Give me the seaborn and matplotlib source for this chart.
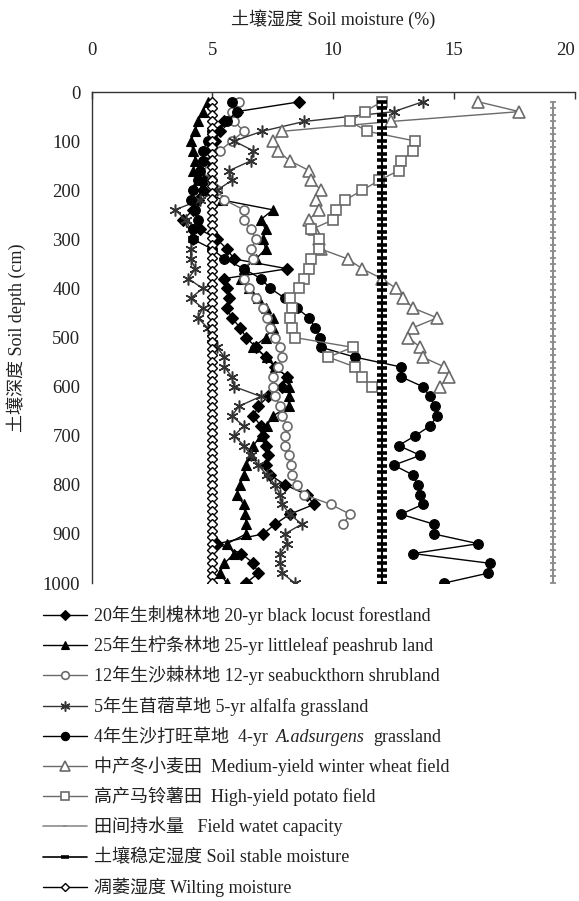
import numpy as np
import pandas as pd
import seaborn as sns
import matplotlib.pyplot as plt
from matplotlib.lines import Line2D

# sampling depths (cm), one value every 20 cm
depth = list(range(20, 1001, 20))
# depths used for the three constant reference lines (denser markers)
ref_depth = np.linspace(20, 1000, 75)

# soil moisture (%)
black_locust = [8.6, 6.0, 5.5, 5.3, 5.1, 5.0, 4.9, 4.8, 4.7, 4.6,
                4.4, 4.2, 3.8, 4.5, 5.2, 5.6, 5.9, 8.1, 5.5, 5.6,
                5.7, 5.6, 5.8, 6.15, 6.4, 6.8, 7.2, 7.6, 8.1, 7.9,
                7.3, 6.9, 6.7, 7.0, 7.1, 7.2, 7.3, 7.2, 7.4, 8.0,
                8.9, 9.2, 8.2, 7.6, 7.1, 5.2, 6.2, 6.7, 6.9, 6.4]
peashrub = [4.8, 4.6, 4.4, 4.3, 4.1, 4.2, 4.3, 4.2, 4.4, 4.6,
            5.4, 7.5, 7.0, 7.2, 7.1, 7.2, 6.8, 6.3, 6.2, 6.5,
            6.9, 7.2, 7.5, 7.5, 7.2, 6.7, 7.25, 7.6, 8.1, 8.15,
            8.15, 8.15, 7.5, 7.25, 7.0, 6.7, 6.6, 6.4, 6.3, 6.15,
            6.0, 6.3, 6.35, 6.4, 6.4, 5.6, 5.9, 5.5, 5.3, 5.6]
seabuckthorn = [6.1, 5.8, 5.9, 6.3, 5.8, 5.3, 4.6, 4.8, 5.0, 5.2,
                5.5, 6.3, 6.3, 6.6, 6.8, 6.6, 6.7, 6.3, 6.3, 6.5,
                6.8, 7.1, 7.25, 7.4, 7.6, 7.8, 7.9, 7.7, 7.5, 7.5,
                7.6, 7.8, 7.9, 8.1, 8.0, 8.0, 8.15, 8.25, 8.3, 8.5,
                8.8, 9.9, 10.7, 10.4]
alfalfa = [13.7, 12.5, 8.8, 7.05, 5.9, 6.7, 6.6, 5.7, 5.8, 5.2,
           4.5, 3.45, 3.9, 4.1, 4.2, 4.1, 4.1, 4.3, 4.0, 4.6,
           4.1, 4.6, 4.4, 4.8, 5.0, 5.2, 5.5, 5.5, 5.8, 5.9,
           7.0, 6.1, 5.8, 6.3, 5.9, 6.3, 6.6, 6.9, 7.25, 7.6,
           7.8, 7.9, 8.2, 8.7, 8.0, 8.1, 7.8, 7.8, 7.9, 8.4]
adsurgens = [5.8, 6.0, 5.6, 5.0, 4.8, 4.6, 4.6, 4.5, 4.4, 4.2,
             4.1, 4.3, 4.4, 4.2, 4.2, 5.0, 5.5, 6.3, 7.0, 7.4,
             8.0, 8.5, 9.0, 9.25, 9.46, 9.5, 10.9, 12.8, 12.8, 13.7,
             14.0, 14.2, 14.3, 14.0, 13.4, 12.7, 13.6, 12.5, 13.3, 13.5,
             13.6, 13.7, 12.8, 14.15, 14.15, 16.0, 13.3, 16.5, 16.4, 14.6]
wheat = [16.0, 17.7, 12.4, 7.9, 7.5, 7.7, 8.2, 9.0, 9.1, 9.5,
         9.3, 9.4, 9.0, 9.2, 9.4, 9.5, 10.6, 11.2, 12.0, 12.6,
         12.9, 13.3, 14.3, 13.3, 13.1, 13.6, 13.7, 14.6, 14.8, 14.4]
potato = [12.0, 11.3, 10.7, 11.4, 13.4, 13.3, 12.8, 12.7, 11.9, 11.2,
          10.5, 10.1, 10.0, 9.1, 9.4, 9.4, 9.1, 9.0, 8.8, 8.6,
          8.2, 8.3, 8.2, 8.3, 8.4, 10.8, 9.8, 10.9, 11.2, 11.6]
field_capacity = 19.1
stable_moisture = 12.0
wilting_moisture = 5.0

labels = [
    "20年生刺槐林地 20-yr black locust forestland",
    "25年生柠条林地 25-yr littleleaf peashrub land",
    "12年生沙棘林地 12-yr seabuckthorn shrubland",
    "5年生苜蓿草地 5-yr alfalfa grassland",
    "4年生沙打旺草地  4-yr",
    "中产冬小麦田  Medium-yield winter wheat field",
    "高产马铃薯田  High-yield potato field",
    "田间持水量   Field watet capacity",
    "土壤稳定湿度 Soil stable moisture",
    "凋萎湿度 Wilting moisture",
]

sns.set_style("white")
plt.rcParams['font.family'] = ['Liberation Serif', 'Noto Sans CJK SC']

GRAY = '#6a6a6a'
styles = [
    dict(color='black', marker='D', markersize=6, markerfacecolor='black',
         markeredgecolor='black', markeredgewidth=0.8, linewidth=1.0),
    dict(color='black', marker='^', markersize=7, markerfacecolor='black',
         markeredgecolor='black', markeredgewidth=0.8, linewidth=1.0),
    dict(color=GRAY, marker='o', markersize=6.5, markerfacecolor='white',
         markeredgecolor=GRAY, markeredgewidth=1.2, linewidth=1.0),
    dict(color='#333333', marker=(6, 2, 0), markersize=8.5, markerfacecolor='#333333',
         markeredgecolor='#333333', markeredgewidth=1.1, linewidth=1.0),
    dict(color='black', marker='o', markersize=7, markerfacecolor='black',
         markeredgecolor='black', markeredgewidth=0.8, linewidth=1.0),
    dict(color=GRAY, marker='^', markersize=8, markerfacecolor='white',
         markeredgecolor=GRAY, markeredgewidth=1.2, linewidth=1.0),
    dict(color=GRAY, marker='s', markersize=6.5, markerfacecolor='white',
         markeredgecolor=GRAY, markeredgewidth=1.2, linewidth=1.0),
    dict(color='#8c8c8c', marker='_', markersize=4, markerfacecolor='#8c8c8c',
         markeredgecolor='#8c8c8c', markeredgewidth=1.3, linewidth=1.5),
    dict(color='black', marker='_', markersize=7.5, markerfacecolor='black',
         markeredgecolor='black', markeredgewidth=2.6, linewidth=1.5),
    dict(color='black', marker='D', markersize=4.6, markerfacecolor='white',
         markeredgecolor='black', markeredgewidth=1.0, linewidth=1.0),
]

series = [black_locust, peashrub, seabuckthorn, alfalfa, adsurgens, wheat, potato]
refs = [field_capacity, stable_moisture, wilting_moisture]

W, H = 579, 901
fig = plt.figure(figsize=(W / 100, H / 100), dpi=100)
ax = fig.add_axes([91.5 / W, 1 - 583 / H, 483.5 / W, 491 / H])

for vals, st in zip(series, styles[:7]):
    sns.lineplot(x=vals, y=depth[:len(vals)], ax=ax, orient='y',
                 estimator=None, legend=False, **st)
for val, st in zip(refs, styles[7:]):
    sns.lineplot(x=[val] * len(ref_depth), y=ref_depth, ax=ax, orient='y',
                 estimator=None, legend=False, **st)

ax.set_xlim(0, 20)
ax.set_ylim(1000, 0)
ax.set_xticks([0, 5, 10, 15, 20])
ax.set_yticks(range(0, 1001, 100))
ax.xaxis.tick_top()
ax.xaxis.set_label_position('top')
for side in ['right', 'bottom']:
    ax.spines[side].set_visible(False)
for side in ['top', 'left']:
    ax.spines[side].set_color('#333333')
    ax.spines[side].set_linewidth(1.0)
ax.tick_params(axis='both', direction='in', length=5, width=1, color='#333333',
               labelsize=13.5, labelcolor='#222222')
ax.tick_params(axis='x', pad=24)
ax.tick_params(axis='y', pad=8)
# keep the last x label inside the figure
ax.get_xticklabels()[-1].set_horizontalalignment('right')
ax.set_xlabel("土壤湿度 Soil moisture (%)", fontsize=13, labelpad=12, color='#222222')
ax.set_ylabel("土壤深度 Soil depth (cm)", fontsize=13, labelpad=12, color='#222222')

# hand-made legend below the axes
row_y = [615 + 30.2 * i for i in range(10)]
texts = []
for i, (lab, st) in enumerate(zip(labels, styles)):
    yf = 1 - row_y[i] / H
    hst = dict(st)
    hst['markersize'] = st['markersize'] * 0.85
    hst['linewidth'] = min(st['linewidth'], 1.2)
    fig.add_artist(Line2D([43 / W, 65 / W, 87 / W], [yf, yf, yf],
                          transform=fig.transFigure, markevery=[1], **hst))
    t = fig.text(94 / W, 1 - (row_y[i] + 6) / H, lab, fontsize=13,
                 va='baseline', color='#222222')
    texts.append(t)

fig.canvas.draw()
r = fig.canvas.get_renderer()
bb = texts[4].get_window_extent(r)
yb = 1 - (row_y[4] + 6) / H
t2 = fig.text((bb.x1 + 8) / W, yb, "A.adsurgens", fontsize=13, va='baseline',
              style='italic', family='Liberation Serif', color='#222222')
bb2 = t2.get_window_extent(r)
fig.text((bb2.x1 + 8) / W, yb, "grassland", fontsize=13, va='baseline',
         color='#222222')

fig.savefig("out.png", dpi=100)
